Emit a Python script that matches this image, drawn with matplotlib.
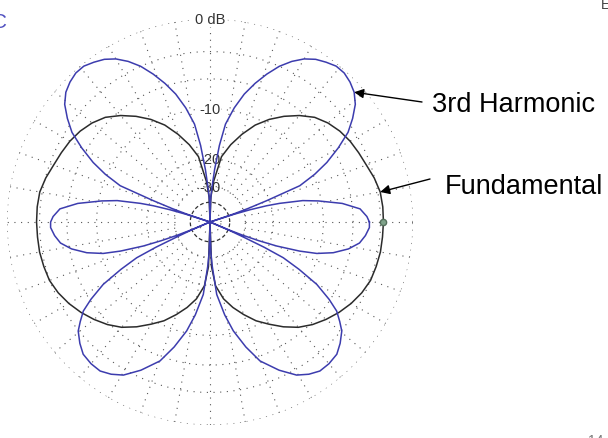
import matplotlib
matplotlib.use('Agg')
import matplotlib.pyplot as plt
import numpy as np

# gain in dB, upper half (0 = right, 90 = up) and lower half (0 to -90)
harm_up_ang = [0, 2, 5, 8, 11, 13, 15, 16, 17, 17.8, 18.3, 18.8, 19.6, 20.6, 22, 24.5, 27,
               30, 33, 36, 39, 42, 45, 48, 51, 54, 57, 60, 63, 66, 69, 72, 75, 78, 81,
               83, 85, 87, 88.5, 90]
harm_up_db = [-4.15, -4.41, -5.12, -7.19, -10.45, -13.0, -17.8, -21.2, -27.0, -35.9, -99,
              -36.0, -27.5, -20.8, -12.7, -9.75, -7.5, -5.42, -3.6, -2.42, -1.41, -0.78,
              -0.43, -0.21, -0.21, -0.47, -0.78, -1.29, -2.04, -3.0, -4.26, -5.69, -7.33,
              -9.5, -12.3, -16.6, -23.2, -31.2, -38.0, -99]
harm_low_ang = [0, -2, -5, -8, -11, -14, -16.4, -18, -19.8, -21, -22, -22.6, -23, -23.5,
                -24.2, -25, -26, -28, -30.3, -33, -35.1, -37.5, -39.6, -43, -46.2, -50,
                -53.6, -57, -60.5, -65, -70.2, -74, -77.9, -81, -84.7, -87, -88.5, -90]
harm_low_db = [-4.15, -4.14, -4.52, -5.08, -6.25, -8.05, -10.3, -13.2, -18.05, -23.4,
               -30.2, -38.0, -99, -38.0, -30.0, -21.0, -15.66, -12.0, -8.5, -6.13, -4.65,
               -3.71, -2.94, -2.26, -1.76, -1.59, -1.58, -1.92, -2.46, -3.71, -5.46, -7.65,
               -10.3, -13.2, -17.6, -25.9, -33.0, -99]

fund_up_ang = [0, 5, 10, 15, 20, 25, 30, 35, 40, 45, 50, 55, 60, 65, 70, 75, 80, 85, 88, 90]
fund_up_db = [-2.7, -2.7, -2.76, -3.04, -3.41, -3.66, -3.9, -4.25, -4.74, -5.42, -6.5,
              -7.78, -9.24, -11.0, -13.34, -15.98, -19.18, -27.66, -36.0, -99]
fund_low_ang = [0, -5, -10, -15, -20, -25, -30, -35, -40, -45, -50, -55, -60, -65, -70,
                -75, -80, -85, -88, -90]
fund_low_db = [-2.7, -2.73, -2.74, -2.84, -2.96, -3.3, -3.77, -4.35, -5.02, -5.77, -6.69,
               -7.92, -9.31, -10.67, -12.41, -14.25, -16.41, -19.8, -25.9, -99]

ring_db = [0, -3, -6, -10, -20, -30, -50]
label_db = [0, -10, -20, -30]
label_txt = ['0 dB', '-10', '-20', '-30']


def arrl(db):
    # ARRL log scale: radius shrinks by 0.89 every 2 dB
    return 0.89 ** (-np.asarray(db, dtype=float) / 2)


def full_pattern(up_ang, up_db, low_ang, low_db):
    up_ang, low_ang = np.array(up_ang), np.array(low_ang)
    th = np.concatenate([up_ang, 180 - up_ang[::-1], 180 - low_ang, 360 + low_ang[::-1]])
    db = np.concatenate([up_db, up_db[::-1], low_db, low_db[::-1]])
    return np.radians(th), arrl(db)


plt.rcParams['font.family'] = ['Liberation Sans', 'DejaVu Sans']

W, H = 608, 439
fig = plt.figure(figsize=(W / 100, H / 100), dpi=100)
ax = fig.add_axes([7 / W, 13 / H, 406 / W, 406 / H], projection='polar')
ax.set_ylim(0, 1)
ax.set_xticks([])
ax.set_yticks([])
ax.grid(False)
ax.spines['polar'].set_visible(False)
ax.patch.set_alpha(0)

# grid: dotted rings, dashed -40 dB ring, dotted spokes
circ = np.linspace(0, 2 * np.pi, 400)
dot = (0, (1, 5))
for d in ring_db:
    ax.plot(circ, np.full_like(circ, arrl(d)), color='#555555', lw=0.8, ls=dot, zorder=1)
ax.plot(circ, np.full_like(circ, arrl(-40)), color='#333333', lw=0.9, ls=(0, (3, 2)), zorder=1)
for a in np.radians(np.arange(0, 360, 10)):
    ax.plot([a, a], [arrl(-30), 1], color='#555555', lw=0.8, ls=dot, zorder=1)

for d, t in zip(label_db, label_txt):
    bb = dict(facecolor='white', edgecolor='none', pad=0.5) if d >= -10 else None
    ax.text(np.pi / 2, arrl(d), t, ha='center', va='center', fontsize=10.5,
            color='#333333', bbox=bb, zorder=2)

th, r = full_pattern(fund_up_ang, fund_up_db, fund_low_ang, fund_low_db)
ax.plot(th, r, color='#2b2b2b', lw=1.1, zorder=3)
th, r = full_pattern(harm_up_ang, harm_up_db, harm_low_ang, harm_low_db)
ax.plot(th, r, color='#3c3cae', lw=1.1, zorder=4)

ax.plot(0, arrl(fund_up_db[0]), 'o', ms=4.5, mfc='#7fa28a', mec='#55705d', zorder=5)

# annotations
k = harm_up_ang.index(42)
ax.annotate('', xy=(np.radians(harm_up_ang[k]), arrl(harm_up_db[k])), xycoords='data',
            xytext=(422, H - 103), textcoords='figure pixels',
            arrowprops=dict(arrowstyle='-|>', color='black', lw=1, mutation_scale=14,
                            shrinkA=0, shrinkB=0), zorder=6)
k = fund_up_ang.index(10)
ax.annotate('', xy=(np.radians(fund_up_ang[k]), arrl(fund_up_db[k])), xycoords='data',
            xytext=(430, H - 180), textcoords='figure pixels',
            arrowprops=dict(arrowstyle='-|>', color='black', lw=1, mutation_scale=14,
                            shrinkA=0, shrinkB=0), zorder=6)

fig.text(432 / W, 1 - 111.5 / H, '3rd Harmonic', fontsize=19.5, ha='left', va='baseline')
fig.text(445 / W, 1 - 194 / H, 'Fundamental', fontsize=19.5, ha='left', va='baseline')

fig.text(-8 / W, 1 - 22 / H, 'C', fontsize=15, color='#5050c0', ha='left', va='center')
fig.text(601 / W, 1 - 5 / H, 'E', fontsize=10, color='#444444', ha='left', va='center')
fig.text(588 / W, 1 - 441 / H, '14', fontsize=10, color='#777777', ha='left', va='center')

fig.savefig('out.png', dpi=100)
